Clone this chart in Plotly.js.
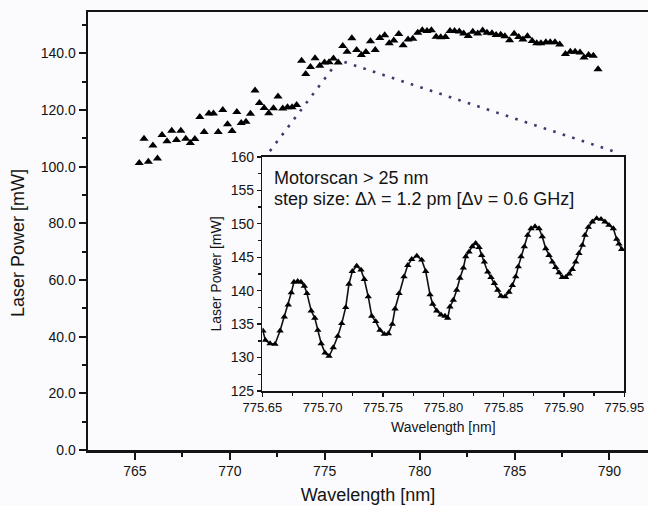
<!DOCTYPE html>
<html>
<head>
<meta charset="utf-8">
<script src="https://cdn.plot.ly/plotly-3.0.1.min.js"></script>
<style>html,body{margin:0;padding:0;background:#fbfbfd;}#chart{width:648px;height:506px;}</style>
</head>
<body>
<div id="chart"></div>
<script>
// Main scan: wavelength [nm] and laser power [mW]
const mainWavelength = [765.23,765.48,765.71,765.95,766.19,766.43,766.69,766.94,767.19,767.42,
  767.68,767.92,768.16,768.42,768.65,768.90,769.14,769.39,769.63,769.88,
  770.12,770.37,770.60,770.85,771.09,771.33,771.56,771.81,772.05,772.30,
  772.54,772.79,773.04,773.28,773.52,773.78,774.00,774.25,774.49,774.74,
  774.99,775.23,775.46,775.71,775.95,776.18,776.43,776.68,776.93,777.17,
  777.41,777.66,777.90,778.16,778.40,778.64,778.90,779.13,779.39,779.64,
  779.90,780.14,780.39,780.62,780.87,781.11,781.36,781.60,781.84,782.09,
  782.32,782.56,782.80,783.06,783.32,783.55,783.81,784.03,784.27,784.49,
  784.74,784.98,785.22,785.44,785.68,785.93,786.17,786.39,786.65,786.88,
  787.13,787.38,787.68,787.94,788.19,788.45,788.66,788.90,789.15,789.40];
const mainPower = [101.3,109.9,101.7,107.5,102.9,111.2,109.0,112.7,109.4,112.7,
  109.9,108.4,109.8,117.5,112.2,118.8,118.8,112.2,120.0,115.0,
  112.6,119.3,115.4,115.9,118.7,126.9,122.5,120.7,118.9,120.6,
  124.8,120.5,121.0,121.0,121.8,137.4,132.7,135.2,138.3,135.6,
  136.8,136.9,138.2,136.8,142.6,140.6,145.3,141.2,139.4,140.5,
  144.3,141.2,145.4,146.4,143.6,144.5,146.8,142.9,144.9,145.2,
  147.3,148.2,147.9,148.2,145.9,145.7,145.8,147.9,147.9,147.7,
  147.0,146.1,147.6,147.0,148.1,147.3,147.1,146.5,146.6,146.0,
  144.6,146.9,145.8,144.9,146.0,144.4,143.6,143.6,143.9,143.9,
  143.9,143.1,139.8,140.6,140.6,140.3,138.5,139.4,139.2,134.4];

// Inset: fine scan
const insetWavelength = [775.6505,775.6525,775.6564,775.6605,775.6647,775.6682,775.6715,775.6740,775.6762,775.6793,
  775.6820,775.6848,775.6870,775.6905,775.6935,775.6960,775.6988,775.7020,775.7053,775.7088,
  775.7125,775.7158,775.7191,775.7218,775.7246,775.7282,775.7318,775.7345,775.7378,775.7407,
  775.7440,775.7475,775.7511,775.7544,775.7577,775.7600,775.7633,775.7674,775.7705,775.7738,
  775.7780,775.7821,775.7854,775.7890,775.7912,775.7945,775.7981,775.8014,775.8036,775.8055,
  775.8083,775.8111,775.8138,775.8166,775.8186,775.8213,775.8240,775.8268,775.8296,775.8318,
  775.8340,775.8368,775.8395,775.8423,775.8451,775.8478,775.8511,775.8544,775.8572,775.8600,
  775.8621,775.8644,775.8671,775.8699,775.8727,775.8760,775.8793,775.8820,775.8849,775.8876,
  775.8903,775.8931,775.8959,775.8986,775.9014,775.9042,775.9069,775.9097,775.9124,775.9152,
  775.9174,775.9202,775.9235,775.9271,775.9307,775.9340,775.9373,775.9409,775.9437,775.9456,
  775.9478];
const insetPower = [134.0,132.6,132.1,132.0,134.0,136.1,137.9,139.7,141.3,141.4,
  141.3,140.7,139.6,137.0,135.9,134.1,132.1,130.7,130.2,131.5,
  133.2,135.1,137.5,141.0,142.9,143.7,143.1,141.7,139.1,136.2,
  135.4,134.1,133.5,133.6,135.0,137.3,139.6,142.1,143.8,144.7,
  145.2,144.6,142.9,139.4,138.0,137.0,136.4,136.2,135.9,137.6,
  138.6,140.1,141.9,143.4,145.1,145.8,146.6,147.1,146.5,145.3,
  144.3,142.8,142.0,141.1,140.1,139.2,139.1,139.8,140.8,142.1,
  143.6,145.1,146.6,148.3,149.3,149.6,149.3,148.1,146.3,145.3,
  144.3,143.5,142.7,142.0,142.0,142.5,143.2,144.3,145.6,146.8,
  148.3,149.5,150.3,150.8,150.7,150.3,149.8,149.3,147.7,147.0,
  146.2];

// Dotted guide lines from the inset to the zoomed region (main axes units)
const guideWavelength = [772.11, 775.74, 790.50];
const guidePower = [105.5, 137.6, 104.8];

const annotationLines = ["Motorscan > 25 nm", "step size: \u0394\u03BB = 1.2 pm [\u0394\u03BD = 0.6 GHz]"];

const FONT = "Liberation Sans, Arial, sans-serif";
const INK = "#141414";

const traces = [
  {x: guideWavelength, y: guidePower, xaxis: 'x', yaxis: 'y', mode: 'lines',
   line: {color: '#3a3a6e', width: 2.6, dash: '2.6px,7.4px'}, hoverinfo: 'skip', showlegend: false},
  {x: mainWavelength, y: mainPower, xaxis: 'x', yaxis: 'y', mode: 'markers',
   marker: {symbol: 'triangle-up', size: 8, color: '#000'}, showlegend: false},
  {x: insetWavelength, y: insetPower, xaxis: 'x2', yaxis: 'y2', mode: 'lines+markers',
   line: {color: '#111', width: 1.6},
   marker: {symbol: 'triangle-up', size: 6.5, color: '#000'}, showlegend: false}
];

const layout = {
  width: 648, height: 506,
  margin: {l: 88, r: 0, t: 12, b: 56},
  paper_bgcolor: '#fbfbfd', plot_bgcolor: '#fbfbfd',
  font: {family: FONT, color: INK},
  showlegend: false,
  hovermode: false,
  xaxis: {
    domain: [0, 1], range: [762.53, 792.03], anchor: 'y',
    tick0: 765, dtick: 5, ticks: 'outside', ticklen: 7, tickwidth: 2, tickcolor: INK,
    minor: {dtick: 2.5, tick0: 765, ticks: 'outside', ticklen: 4, tickwidth: 2, tickcolor: INK},
    showline: true, linewidth: 2.5, linecolor: INK, mirror: true,
    showgrid: false, zeroline: false,
    tickfont: {size: 14, family: FONT, color: INK},
    title: {text: 'Wavelength [nm]', font: {size: 18, family: FONT, color: INK}, standoff: 10}
  },
  yaxis: {
    domain: [0, 1], range: [0, 154.6], anchor: 'x',
    tick0: 0, dtick: 20, tickformat: '.1f', ticks: 'outside', ticklen: 7, tickwidth: 2, tickcolor: INK,
    minor: {dtick: 10, tick0: 0, ticks: 'outside', ticklen: 4, tickwidth: 2, tickcolor: INK},
    showline: true, linewidth: 2.5, linecolor: INK, mirror: false,
    showgrid: false, zeroline: false,
    tickfont: {size: 14, family: FONT, color: INK}
  },
  xaxis2: {
    domain: [0.3113, 0.9577], range: [775.65, 775.95], anchor: 'y2',
    tick0: 775.65, dtick: 0.05, tickformat: '.2f', ticks: 'outside', ticklen: 4, tickwidth: 1.3, tickcolor: INK,
    minor: {dtick: 0.025, ticks: 'outside', ticklen: 3, tickwidth: 1.3, tickcolor: INK},
    showline: true, linewidth: 1.5, linecolor: INK, mirror: true,
    showgrid: false, zeroline: false,
    tickfont: {size: 13, family: FONT, color: INK},
    title: {text: 'Wavelength [nm]', font: {size: 14, family: FONT, color: INK}, standoff: 8}
  },
  yaxis2: {
    domain: [0.1347, 0.669], range: [125, 160], anchor: 'x2',
    tick0: 125, dtick: 5, ticks: 'outside', ticklen: 4, tickwidth: 1.3, tickcolor: INK,
    minor: {dtick: 2.5, ticks: 'outside', ticklen: 3, tickwidth: 1.3, tickcolor: INK},
    showline: true, linewidth: 1.5, linecolor: INK, mirror: true,
    showgrid: false, zeroline: false,
    tickfont: {size: 14, family: FONT, color: INK},
    title: {text: 'Laser Power [mW]', font: {size: 14, family: FONT, color: INK}, standoff: 6}
  },
  annotations: [
    {text: 'Laser Power [mW]', xref: 'paper', yref: 'paper', x: (18 - 88) / 560, y: (450 - 243) / 438,
     xanchor: 'center', yanchor: 'middle', textangle: -90, showarrow: false,
     font: {size: 18, family: FONT, color: INK}},
    {text: annotationLines[0], xref: 'paper', yref: 'paper', x: (271.7 - 88) / 560, y: (450 - 178.3) / 438,
     xanchor: 'left', yanchor: 'middle', showarrow: false, font: {size: 18, family: FONT, color: INK}},
    {text: annotationLines[1], xref: 'paper', yref: 'paper', x: (271.7 - 88) / 560, y: (450 - 199.3) / 438,
     xanchor: 'left', yanchor: 'middle', showarrow: false, font: {size: 18, family: FONT, color: INK}}
  ]
};

Plotly.newPlot('chart', traces, layout, {staticPlot: true, displayModeBar: false});
</script>
</body>
</html>
